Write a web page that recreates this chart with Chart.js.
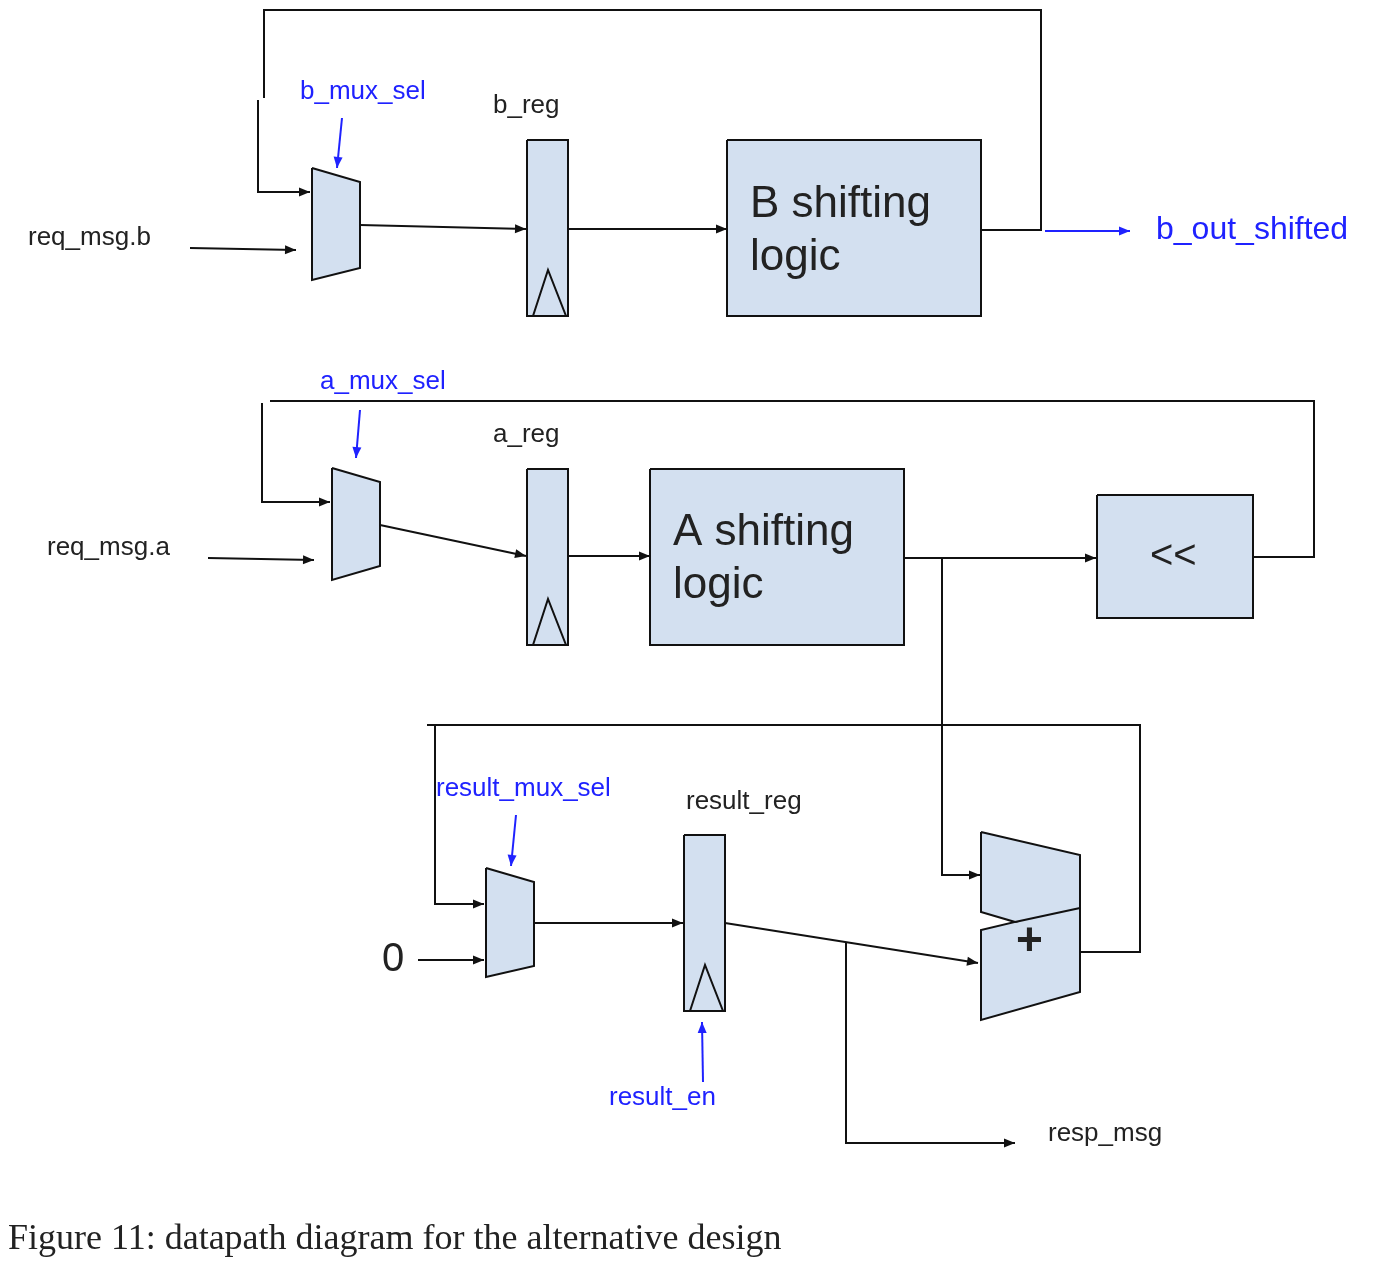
<!DOCTYPE html>
<html><head><meta charset="utf-8">
<script src="https://cdn.jsdelivr.net/npm/chart.js@4"></script>
<style>html,body{margin:0;padding:0;background:#fff}</style>
</head><body>
<canvas id="c" width="1376" height="1264" style="width:1376px;height:1264px"></canvas>
<script>
// Diagram geometry (image pixel space), drawn through the chart's x/y scales
const wires = [
  {pts:[[264,98],[264,10],[1041,10],[1041,230],[982,230]]},
  {pts:[[258,100],[258,192],[310,192]], arrow:true},
  {pts:[[1045,231],[1130,231]], arrow:true, blue:true},
  {pts:[[342,118],[337,168]], arrow:true, blue:true},
  {pts:[[190,248],[296,250]], arrow:true},
  {pts:[[360,225],[526,229]], arrow:true},
  {pts:[[568,229],[727,229]], arrow:true},
  {pts:[[1254,557],[1314,557],[1314,401],[270,401]]},
  {pts:[[262,403],[262,502],[330,502]], arrow:true},
  {pts:[[360,410],[356,458]], arrow:true, blue:true},
  {pts:[[208,558],[314,560]], arrow:true},
  {pts:[[380,525],[526,556]], arrow:true},
  {pts:[[568,556],[650,556]], arrow:true},
  {pts:[[904,558],[1096,558]], arrow:true},
  {pts:[[942,558],[942,875],[980,875]], arrow:true},
  {pts:[[427,725],[1140,725],[1140,952],[1080,952]]},
  {pts:[[435,725],[435,904],[484,904]], arrow:true},
  {pts:[[418,960],[484,960]], arrow:true},
  {pts:[[516,815],[511,866]], arrow:true, blue:true},
  {pts:[[534,923],[683,923]], arrow:true},
  {pts:[[703,1082],[702,1022]], arrow:true, blue:true},
  {pts:[[725,923],[978,963]], arrow:true},
  {pts:[[846,943],[846,1143],[1015,1143]], arrow:true},
  {pts:[[1015,922],[1080,908]]}
];
const shapes = [
  [[312,168],[360,182],[360,268],[312,280]],
  [[527,140],[568,140],[568,316],[527,316]],
  [[727,140],[981,140],[981,316],[727,316]],
  [[332,468],[380,482],[380,566],[332,580]],
  [[527,469],[568,469],[568,645],[527,645]],
  [[650,469],[904,469],[904,645],[650,645]],
  [[1097,495],[1253,495],[1253,618],[1097,618]],
  [[486,868],[534,882],[534,966],[486,977]],
  [[684,835],[725,835],[725,1011],[684,1011]],
  [[981,832],[1080,855],[1080,992],[981,1020],[981,930],[1015,922],[981,912]]
];
const clocks = [
  [[533,316],[548,270],[566,316]],
  [[533,645],[548,599],[566,645]],
  [[690,1011],[705,965],[723,1011]]
];
const labels = [
  {t:'req_msg.b',x:28,y:238,s:26},
  {t:'b_mux_sel',x:300,y:92,s:26,blue:true},
  {t:'b_reg',x:493,y:106,s:26},
  {t:'B shifting',x:750,y:205,s:44},
  {t:'logic',x:750,y:258,s:44},
  {t:'b_out_shifted',x:1156,y:230,s:32,blue:true},
  {t:'a_mux_sel',x:320,y:382,s:26,blue:true},
  {t:'a_reg',x:493,y:435,s:26},
  {t:'req_msg.a',x:47,y:548,s:26},
  {t:'A shifting',x:673,y:533,s:44},
  {t:'logic',x:673,y:586,s:44},
  {t:'<<',x:1150,y:557,s:40},
  {t:'result_mux_sel',x:436,y:789,s:26,blue:true},
  {t:'result_reg',x:686,y:802,s:26},
  {t:'0',x:382,y:960,s:40},
  {t:'+',x:1016,y:942,s:46,bold:true},
  {t:'result_en',x:609,y:1098,s:26,blue:true},
  {t:'resp_msg',x:1048,y:1134,s:26},
  {t:'Figure 11: datapath diagram for the alternative design',x:8,y:1240,s:36,serif:true}
];
const BLUE='#1f22ff', FILL='#d3e0f0';

const datasets = [];
wires.forEach(w=>datasets.push({data:w.pts.map(p=>({x:p[0],y:p[1]})),borderColor:w.blue?BLUE:'#111',borderWidth:2,pointRadius:0,showLine:true,fill:false,tension:0}));
shapes.concat(clocks).forEach(s=>{const d=s.concat([s[0]]);datasets.push({data:d.map(p=>({x:p[0],y:p[1]})),borderColor:'#111',borderWidth:2,pointRadius:0,showLine:true,fill:false,tension:0});});

const diagram = {
  id:'diagram',
  beforeDatasetsDraw(ch){
    const c=ch.ctx,X=ch.scales.x,Y=ch.scales.y;
    c.save();c.fillStyle=FILL;
    shapes.forEach(s=>{c.beginPath();s.forEach((p,i)=>{const px=X.getPixelForValue(p[0]),py=Y.getPixelForValue(p[1]);i?c.lineTo(px,py):c.moveTo(px,py);});c.closePath();c.fill();});
    c.restore();
  },
  afterDatasetsDraw(ch){
    const c=ch.ctx,X=ch.scales.x,Y=ch.scales.y;
    c.save();
    wires.forEach(w=>{if(!w.arrow)return;const n=w.pts.length;const a=w.pts[n-2],b=w.pts[n-1];
      const bx=X.getPixelForValue(b[0]),by=Y.getPixelForValue(b[1]),ax=X.getPixelForValue(a[0]),ay=Y.getPixelForValue(a[1]);
      const ang=Math.atan2(by-ay,bx-ax),L=11,W=4.5;
      c.fillStyle=w.blue?BLUE:'#111';c.beginPath();c.moveTo(bx,by);
      c.lineTo(bx-L*Math.cos(ang)+W*Math.sin(ang),by-L*Math.sin(ang)-W*Math.cos(ang));
      c.lineTo(bx-L*Math.cos(ang)-W*Math.sin(ang),by-L*Math.sin(ang)+W*Math.cos(ang));
      c.closePath();c.fill();});
    c.textBaseline='middle';c.textAlign='left';
    labels.forEach(l=>{c.fillStyle=l.blue?BLUE:'#222';
      c.font=(l.bold?'bold ':'')+l.s+'px '+(l.serif?'"Liberation Serif"':'"Liberation Sans", Arial');
      c.fillText(l.t,X.getPixelForValue(l.x),Y.getPixelForValue(l.y));});
    c.restore();
  }
};

new Chart(document.getElementById('c'),{
  type:'scatter',
  data:{datasets},
  options:{responsive:false,animation:false,devicePixelRatio:1,
    layout:{padding:0},
    plugins:{legend:{display:false},tooltip:{enabled:false}},
    scales:{
      x:{type:'linear',min:0,max:1376,display:false},
      y:{type:'linear',min:0,max:1264,reverse:true,display:false}
    }},
  plugins:[diagram]
});
</script>
</body></html>
